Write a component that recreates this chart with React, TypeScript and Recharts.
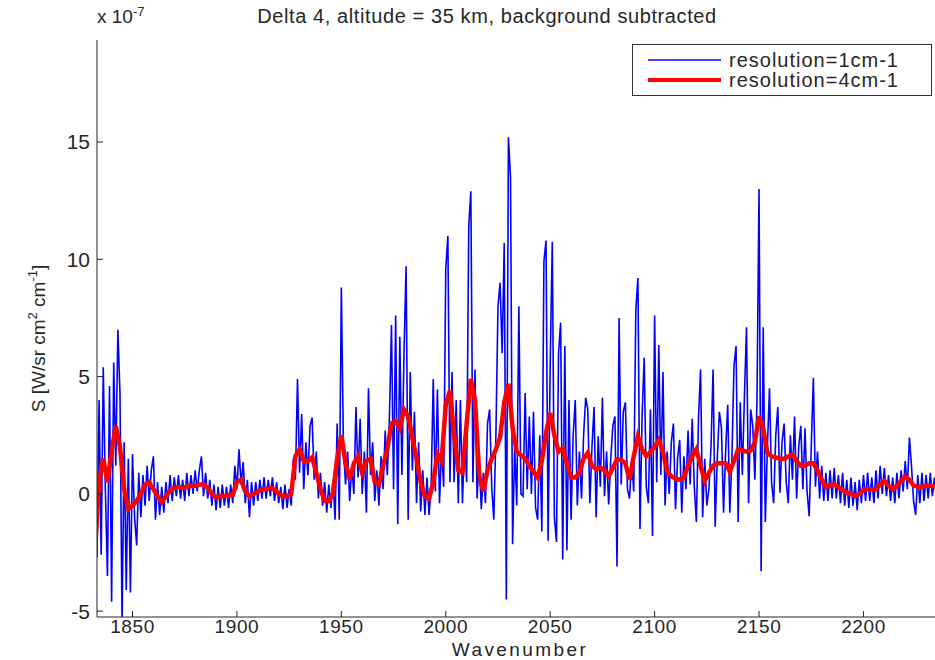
import { Legend, Line, LineChart, XAxis, YAxis } from 'recharts';

const FONT = '"Liberation Sans", Arial, Helvetica, sans-serif';
const INK = '#262626';

// wavenumber grid of the 1 cm-1 spectrum starts here, one value per cm-1
const BLUE_START = 1833;
// S x 1e-7
const BLUE_VALUES = [
  -2.7, 4.0, -2.6, 5.4, 0.2, -3.5, 4.6, -4.6, 5.6, 1.2, // 1833
  7.0, 4.3, -5.5, 2.2, -4.1, 1.5, -4.2, 1.7, -1.0, -2.2, // 1843
  0.9, -1.0, 0.8, -0.5, 1.2, -0.3, 1.0, 1.6, -1.1, 0.5, // 1853
  -0.9, 0.3, -0.8, 0.5, -0.4, 0.8, -0.3, 0.7, -0.1, 0.8, // 1863
  -0.2, 0.6, -0.3, 0.9, -0.1, 0.8, 0.0, 1.0, 0.1, 1.0, // 1873
  1.6, -0.1, 0.9, -0.2, 0.6, -0.5, 0.4, -0.7, 0.3, -0.6, // 1883
  0.4, -0.5, 0.3, -0.6, 0.4, -0.4, 1.2, 0.2, 1.9, 0.4, // 1893
  1.35, -0.4, 0.6, -1.0, 0.5, -0.5, 0.5, -0.3, 0.6, -0.2, // 1903
  0.7, -0.2, 0.6, -0.1, 0.7, -0.3, 0.5, -0.4, 0.3, -0.65, // 1913
  0.4, -0.6, 0.2, -0.5, 1.5, 0.6, 4.9, 0.9, 3.4, 0.2, // 1923
  2.2, 0.8, 2.9, 3.25, 0.6, 1.8, -0.2, 0.9, -0.5, 0.5, // 1933
  -0.8, 0.4, -0.6, 0.6, -1.1, 3.0, -1.1, 8.8, 2.0, 0.4, // 1943
  1.8, -0.3, 1.2, 0.0, 3.7, 0.7, 3.2, 0.0, 1.8, -0.8, // 1953
  4.5, 0.8, 2.2, -0.3, 1.0, -0.5, 1.6, 0.2, 2.7, 0.8, // 1963
  3.2, 7.2, 0.2, 7.6, -1.3, 6.7, 0.8, 6.0, 9.7, -1.1, // 1973
  5.2, 1.0, 3.5, -0.4, 2.2, -0.75, 1.0, -0.9, 0.7, -0.9, // 1983
  0.3, 4.9, 0.1, 4.45, -0.4, 2.0, 0.3, 9.6, 11.0, 0.5, // 1993
  5.2, 0.5, 4.0, -0.4, 4.0, -0.4, 2.5, 0.5, 11.4, 12.9, // 2003
  0.5, 5.3, -0.2, 1.6, -0.65, 0.9, -0.4, 3.0, 3.6, 0.3, // 2013
  -1.1, 2.5, 8.0, 9.0, 6.0, 10.7, -4.5, 15.2, 13.5, -2.15, // 2023
  2.0, -0.5, 8.0, 0.0, -0.1, 4.3, 0.2, 3.3, 0.0, 3.5, // 2033
  -0.6, -1.1, 2.5, -1.6, 9.9, 10.8, -2.0, 5.5, 10.75, -1.0, // 2043
  -2.05, 6.0, 7.3, -2.8, 6.3, -2.4, 4.0, -1.1, 2.5, 4.0, // 2053
  -0.5, 1.8, -0.2, 2.5, 4.1, 3.6, -0.4, 2.0, 3.7, -1.0, // 2063
  2.45, 0.3, 4.1, -0.1, 1.8, -0.45, 1.5, 2.9, 3.3, -3.1, // 2073
  7.5, 0.4, 3.5, 3.9, 0.2, -0.2, 1.5, 0.1, 7.85, 9.2, // 2083
  -1.5, 3.3, 5.8, 0.3, -0.4, 3.6, -1.8, 7.6, 0.5, 6.35, // 2093
  0.8, 5.2, -0.5, 1.8, 0.0, 2.2, 3.0, -0.65, 1.5, 2.3, // 2103
  -0.8, 1.6, 0.2, 2.7, 0.4, 3.2, 0.3, -1.2, 3.2, 5.3, // 2113
  -1.0, 1.5, -0.5, 0.2, 2.0, 5.3, -1.4, 1.5, 3.5, 2.8, // 2123
  -0.8, 1.8, 3.8, -0.8, 1.5, 5.45, 6.3, -1.2, 3.9, 0.8, // 2133
  4.15, 7.1, -0.4, 3.6, 2.9, 0.6, 3.9, 13.0, -3.3, 7.1, // 2143
  -1.2, 2.0, 4.5, 0.5, -0.4, 2.5, 3.7, 0.05, 2.2, 3.0, // 2153
  0.5, -0.4, 2.5, 0.6, 3.3, -0.2, 2.0, 2.9, 0.2, 2.8, // 2163
  0.1, -0.95, 2.0, 4.95, 0.3, 1.8, -0.2, 1.2, -0.3, 0.9, // 2173
  -0.3, 1.0, -0.2, 1.1, -0.2, 0.8, -0.4, 0.9, -0.5, 0.6, // 2183
  -0.6, 0.7, -0.5, 0.5, -0.7, 0.6, -0.4, 0.8, -0.3, 0.9, // 2193
  -0.3, 0.7, -0.4, 1.0, -0.2, 1.2, 0.0, 1.1, -0.1, 0.8, // 2203
  -0.3, 0.7, -0.4, 0.9, -0.2, 1.0, 0.1, 1.4, 0.2, 2.4, // 2213
  1.2, -0.3, -0.9, 0.8, -0.4, 0.9, -0.3, 0.8, -0.2, 0.9, // 2223
  -0.1, 0.7, -0.2, 0.6, -0.1, 0.5, 0.0, 0.4, // 2233
];

// 4 cm-1 spectrum, read every 2 cm-1
const RED_START = 1832;
const RED_STEP = 2;
const RED_VALUES = [
  -2.5, // 1832
  0.5, 1.5, 0.5, 1.8, 2.9, 2.0, 0.2, -0.65, -0.5, -0.3, // 1834
  0.0, 0.4, 0.5, 0.2, -0.1, -0.35, -0.1, 0.15, 0.25, 0.3, // 1854
  0.25, 0.3, 0.35, 0.35, 0.4, 0.4, 0.25, 0.0, -0.15, -0.1, // 1874
  -0.1, -0.05, -0.05, 0.5, 0.6, 0.1, -0.1, 0.0, 0.1, 0.2, // 1894
  0.2, 0.25, 0.2, 0.0, -0.1, -0.1, 0.0, 1.6, 1.9, 1.4, // 1914
  1.4, 1.55, 0.9, 0.2, -0.3, -0.3, 0.0, 1.5, 2.5, 1.3, // 1934
  0.6, 1.3, 1.6, 0.9, 1.4, 1.5, 0.5, 0.4, 1.2, 1.9, // 1954
  3.0, 3.1, 2.8, 3.6, 3.3, 2.4, 1.5, 0.5, -0.1, -0.2, // 1974
  0.5, 1.7, 1.4, 3.8, 4.4, 2.5, 1.0, 0.9, 3.0, 4.9, // 1994
  4.0, 0.8, 0.1, 1.0, 1.5, 1.9, 2.4, 3.9, 4.7, 2.8, // 2014
  1.8, 1.65, 1.5, 1.2, 0.95, 0.7, 1.4, 2.6, 3.45, 2.5, // 2034
  1.8, 1.95, 1.3, 0.7, 0.7, 0.9, 1.5, 1.75, 1.2, 1.05, // 2054
  1.12, 1.0, 0.75, 1.1, 1.47, 1.45, 1.3, 0.6, 1.6, 2.45, // 2074
  1.9, 1.6, 1.8, 2.0, 2.3, 1.8, 0.95, 0.75, 0.65, 0.6, // 2094
  0.7, 1.2, 1.6, 1.9, 1.2, 0.55, 0.9, 1.2, 1.3, 1.3, // 2114
  1.3, 0.95, 1.4, 1.9, 1.85, 1.8, 1.85, 2.2, 3.3, 2.8, // 2134
  1.75, 1.6, 1.55, 1.5, 1.5, 1.6, 1.68, 1.4, 1.2, 1.2, // 2154
  1.3, 1.3, 1.0, 0.6, 0.3, 0.35, 0.4, 0.3, 0.15, 0.05, // 2174
  0.0, -0.1, 0.0, 0.15, 0.2, 0.2, 0.2, 0.4, 0.55, 0.35, // 2194
  0.2, 0.35, 0.55, 0.75, 0.6, 0.35, 0.3, 0.3, 0.35, 0.35, // 2214
  0.3, 0.25, 0.2, 0.2, // 2234
];

const X_DOMAIN = [1833, 2240];
const X_TICKS = [1850, 1900, 1950, 2000, 2050, 2100, 2150, 2200];
const Y_DOMAIN = [-5.25, 19.35];
const Y_TICKS = [-5, 0, 5, 10, 15];

const blueData = BLUE_VALUES.map((s, i) => ({ wavenumber: BLUE_START + i, s }));
const redData = RED_VALUES.map((s, i) => ({ wavenumber: RED_START + i * RED_STEP, s }));

function YLabelText({ viewBox }: any) {
  const x = viewBox.x - 12;
  const y = viewBox.y + viewBox.height / 2 + 10;
  return (
    <text x={x} y={y} transform={`rotate(-90, ${x}, ${y})`} textAnchor="middle" fill={INK} fontSize={19} fontFamily={FONT}>
      S [W/sr cm
      <tspan dy={-8} fontSize={13}>2</tspan>
      <tspan dy={8}> cm</tspan>
      <tspan dy={-8} fontSize={13}>-1</tspan>
      <tspan dy={8}>]</tspan>
    </text>
  );
}

function XLabelText({ viewBox }: any) {
  return (
    <text
      x={viewBox.x + viewBox.width / 2 - 2}
      y={viewBox.y + 39}
      textAnchor="middle"
      fill={INK}
      fontSize={19}
      letterSpacing={2.4}
      fontFamily={FONT}
    >
      Wavenumber
    </text>
  );
}

function LegendBox({ payload }: any) {
  return (
    <div
      style={{
        width: 300,
        height: 52,
        border: '1px solid #333',
        background: '#fff',
        fontFamily: FONT,
        fontSize: 20,
        letterSpacing: 1,
        color: INK,
        padding: '5px 0 0 0',
        boxSizing: 'border-box',
      }}
    >
      {(payload || []).map((p: any) => (
        <div key={p.value} style={{ display: 'flex', alignItems: 'center', height: 20 }}>
          <svg width={96} height={20}>
            <line x1={15} x2={88} y1={10} y2={10} stroke={p.color} strokeWidth={p.color === '#ff0000' ? 4 : 1.5} />
          </svg>
          <span>{p.value}</span>
        </div>
      ))}
    </div>
  );
}

export default function App() {
  return (
    <div style={{ position: 'absolute', left: 0, top: 0, width: 935, height: 660, overflow: 'hidden', background: '#fff' }}>
      <div style={{ position: 'absolute', left: 97, top: 4, fontFamily: FONT, fontSize: 19, color: INK }}>
        x 10<sup style={{ fontSize: 13 }}>-7</sup>
      </div>
      <div
        style={{
          position: 'absolute',
          left: 187,
          top: 5,
          width: 600,
          textAlign: 'center',
          fontFamily: FONT,
          fontSize: 20,
          letterSpacing: 0.6,
          color: INK,
        }}
      >
        Delta 4, altitude = 35 km, background subtracted
      </div>
      <LineChart width={960} height={660} margin={{ top: 40, right: 13, bottom: 13, left: 57 }}>
        <XAxis
          dataKey="wavenumber"
          type="number"
          domain={X_DOMAIN}
          ticks={X_TICKS}
          allowDataOverflow
          height={30}
          tickSize={-6}
          tickMargin={9}
          axisLine={{ stroke: INK }}
          tickLine={{ stroke: INK }}
          tick={{ fill: INK, fontSize: 19, fontFamily: FONT, letterSpacing: 0.6 }}
          label={<XLabelText />}
        />
        <XAxis
          xAxisId="top"
          orientation="top"
          type="number"
          domain={X_DOMAIN}
          ticks={X_TICKS}
          allowDataOverflow
          height={0}
          tickSize={-6}
          tick={false}
          axisLine={{ stroke: INK }}
          tickLine={{ stroke: INK }}
        />
        <YAxis
          type="number"
          domain={Y_DOMAIN}
          ticks={Y_TICKS}
          allowDataOverflow
          width={40}
          tickSize={-6}
          tickMargin={13}
          axisLine={{ stroke: INK }}
          tickLine={{ stroke: INK }}
          tick={{ fill: INK, fontSize: 21, fontFamily: FONT }}
          label={<YLabelText />}
        />
        <Legend
          layout="horizontal"
          verticalAlign="middle"
          align="center"
          wrapperStyle={{ left: 632, top: 44, width: 300 }}
          content={<LegendBox />}
        />
        <Line
          data={blueData}
          dataKey="s"
          name="resolution=1cm-1"
          type="linear"
          stroke="#0000ff"
          strokeWidth={1.6}
          dot={false}
          isAnimationActive={false}
        />
        <Line
          data={redData}
          dataKey="s"
          name="resolution=4cm-1"
          type="linear"
          stroke="#ff0000"
          strokeWidth={4.5}
          dot={false}
          isAnimationActive={false}
        />
      </LineChart>
    </div>
  );
}
